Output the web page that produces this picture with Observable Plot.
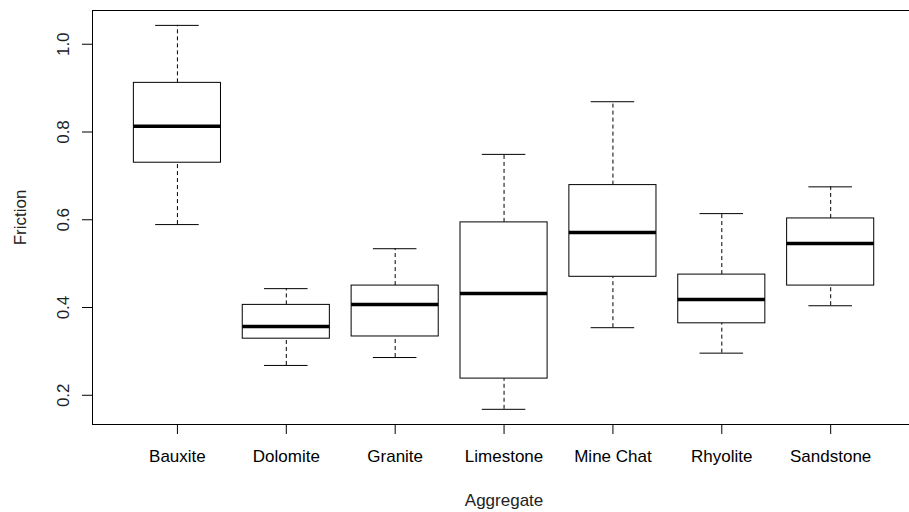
<!DOCTYPE html>
<html><head><meta charset="utf-8">
<script src="https://cdn.jsdelivr.net/npm/d3@7"></script>
<script src="https://cdn.jsdelivr.net/npm/@observablehq/plot@0.6"></script>
<style>body{margin:0;background:#fff;}</style>
</head><body><div id="chart"></div>
<script>
const aggregates = ["Bauxite","Dolomite","Granite","Limestone","Mine Chat","Rhyolite","Sandstone"];
const whiskerLow  = [0.589,0.268,0.286,0.168,0.354,0.296,0.404];
const q1          = [0.730,0.329,0.334,0.238,0.470,0.364,0.450];
const medians     = [0.813,0.357,0.407,0.432,0.571,0.418,0.546];
const q3          = [0.912,0.406,0.450,0.594,0.679,0.475,0.603];
const whiskerHigh = [1.043,0.443,0.534,0.749,0.869,0.614,0.675];
const yTicks = [0.2,0.4,0.6,0.8,1.0];

const data = aggregates.map((name,i)=>({name, pos:i+1, lo:whiskerLow[i], q1:q1[i], med:medians[i], q3:q3[i], hi:whiskerHigh[i]}));
const xDomain = [0.22, 7.724];
const xCenter = (aggregates.length + 1) / 2;
const yDomain = [0.1334, 1.0769];
const half = 0.4, cap = 0.2;

const chart = Plot.plot({
  width: 909, height: 512,
  marginLeft: 92, marginRight: 0, marginTop: 10, marginBottom: 88,
  style: {fontFamily: "'Liberation Sans', Arial, sans-serif", fontSize: "17px", color: "#000", background: "#fff"},
  x: {domain: xDomain},
  y: {domain: yDomain},
  marks: [
    Plot.ruleX([xDomain[0]], {stroke: "#000"}),
    Plot.ruleY([yDomain[0], yDomain[1]], {stroke: "#000"}),
    Plot.axisY({ticks: yTicks, tickSize: 10, tickRotate: -90, tickPadding: 14, tickFormat: d3.format(".1f"),
      label: "Friction", labelAnchor: "center", labelArrow: "none", labelOffset: 79, fill: "#222"}),
    Plot.axisX({ticks: data.map(d=>d.pos), tickSize: 10, tickPadding: 15, tickFormat: p => aggregates[p-1], label: null}),
    Plot.text(["Aggregate"], {x: () => xCenter, frameAnchor: "bottom", dy: 81, lineAnchor: "bottom", text: d => d, fill: "#222"}),
    Plot.ruleX(data, {x: "pos", y1: "q3", y2: "hi", stroke: "#000", strokeDasharray: "4,3"}),
    Plot.ruleX(data, {x: "pos", y1: "lo", y2: "q1", stroke: "#000", strokeDasharray: "4,3"}),
    Plot.ruleY(data, {y: "hi", x1: d=>d.pos-cap, x2: d=>d.pos+cap, stroke: "#000"}),
    Plot.ruleY(data, {y: "lo", x1: d=>d.pos-cap, x2: d=>d.pos+cap, stroke: "#000"}),
    Plot.rect(data, {x1: d=>d.pos-half, x2: d=>d.pos+half, y1: "q1", y2: "q3", fill: "#fff", stroke: "#000"}),
    Plot.ruleY(data, {y: "med", x1: d=>d.pos-half, x2: d=>d.pos+half, stroke: "#000", strokeWidth: 3.5})
  ]
});
document.getElementById("chart").append(chart);
</script>
</body></html>
